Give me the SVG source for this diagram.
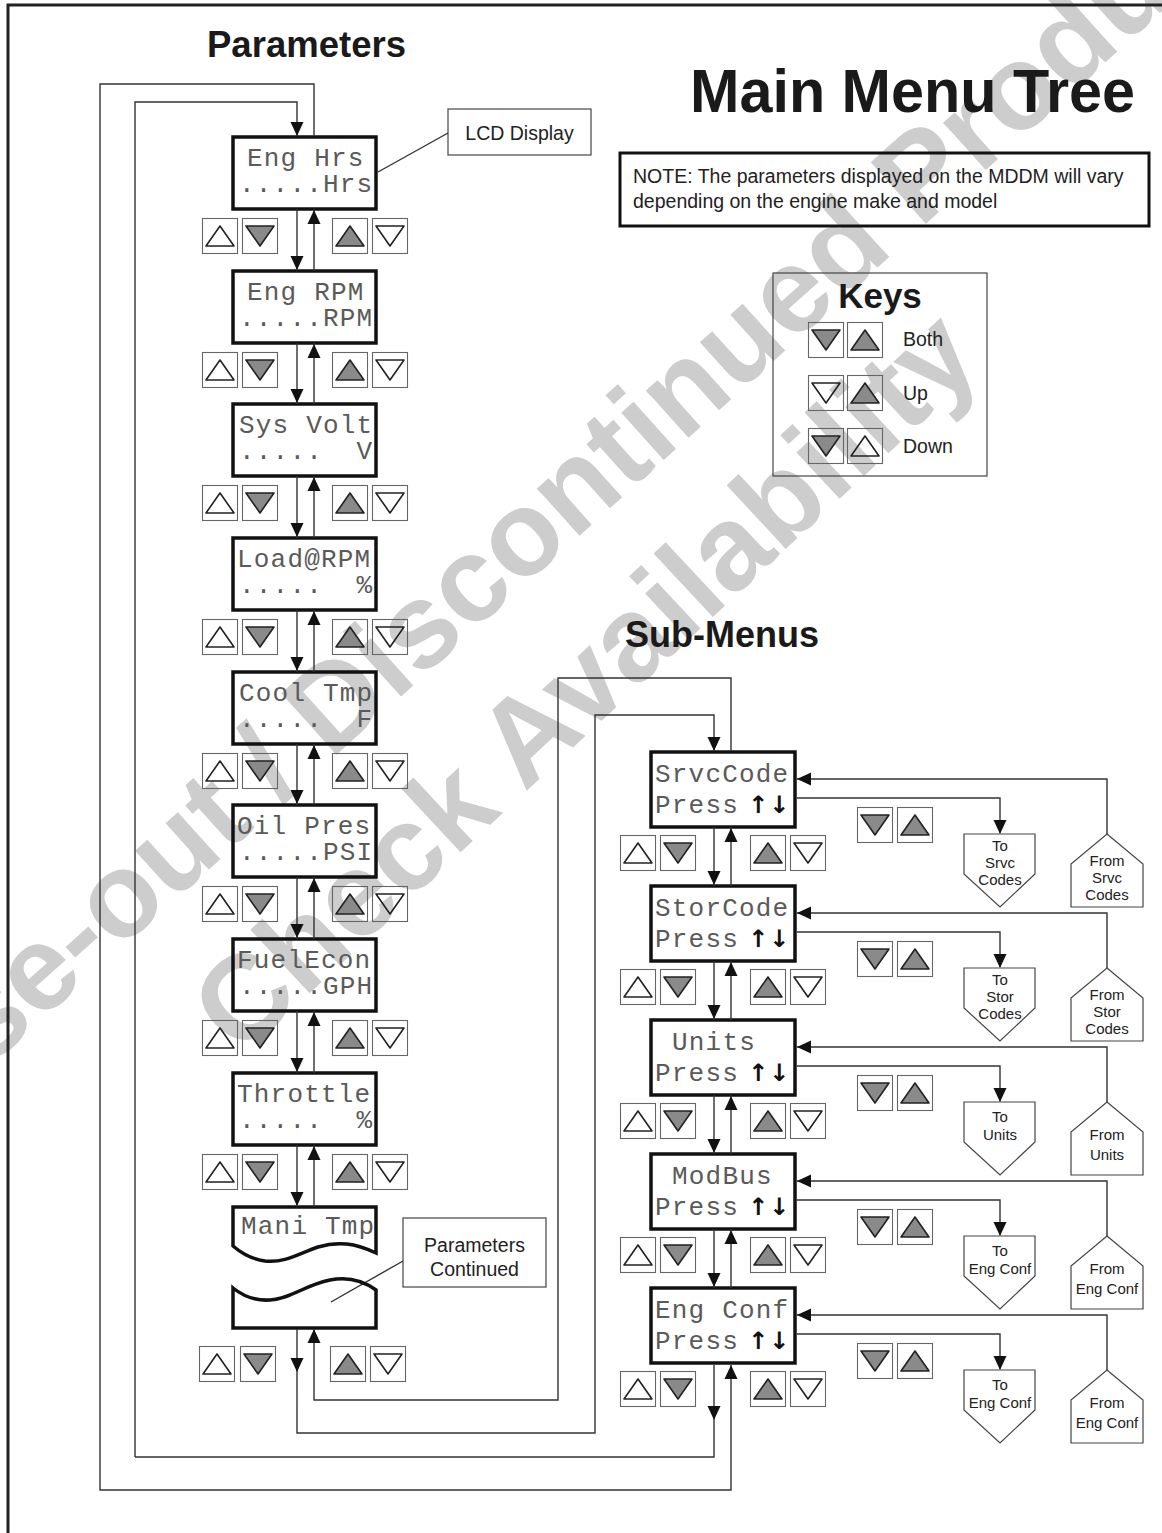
<svg xmlns="http://www.w3.org/2000/svg" width="1162" height="1533" viewBox="0 0 1162 1533">
<style>
text{font-family:"Liberation Sans",Arial,sans-serif}
.wm{font-family:"Liberation Sans",Arial,sans-serif;font-weight:bold;font-size:120px;fill:#cdcdcd}
.lcd{fill:none;stroke:#111;stroke-width:3.5}
.lt{font-family:"Liberation Mono","DejaVu Sans Mono",monospace;font-size:26px;letter-spacing:1.2px;fill:#5a5a5a;white-space:pre}
.ar{font-family:"DejaVu Sans","Liberation Sans",sans-serif;font-size:24px;font-weight:bold;fill:#111;text-anchor:middle}
.c{fill:none;stroke:#333;stroke-width:1.4}
.box{fill:none;stroke:#444;stroke-width:1.2}
.lbl{font-size:19.5px;fill:#222}
.pt{font-size:15px;fill:#222;text-anchor:middle}
.hd{font-weight:bold;fill:#1a1a1a}
.btn{fill:none;stroke:#666;stroke-width:1.1}
.tf{fill:#8a8a8a;stroke:#222;stroke-width:1.6;stroke-linejoin:round}
.th{fill:none;stroke:#222;stroke-width:1.6;stroke-linejoin:round}
.ah{fill:#111}
</style>
<defs>
<g id="uh"><rect class="btn" x="0.5" y="0.5" width="35" height="35"/><polygon class="th" points="4,28 32,28 18,8"/></g>
<g id="uf"><rect class="btn" x="0.5" y="0.5" width="35" height="35"/><polygon class="tf" points="4,28 32,28 18,8"/></g>
<g id="dh"><rect class="btn" x="0.5" y="0.5" width="35" height="35"/><polygon class="th" points="4,8 32,8 18,28"/></g>
<g id="df"><rect class="btn" x="0.5" y="0.5" width="35" height="35"/><polygon class="tf" points="4,8 32,8 18,28"/></g>
<polygon id="aD" class="ah" points="-6.5,-14 6.5,-14 0,0"/>
<polygon id="aU" class="ah" points="-6.5,14 6.5,14 0,0"/>
<polygon id="aL" class="ah" points="14,-6.5 14,6.5 0,0"/>
</defs>

<g id="watermark">
<text class="wm" transform="translate(-175,1215) rotate(-42)">Phase-out / Discontinued Product</text>
<text class="wm" font-size="126" transform="translate(240,1058) rotate(-43)">Check Availability</text>
</g>

<path id="frame" d="M8,1533V5H1162" fill="none" stroke="#222" stroke-width="3"/>

<g id="titles">
<text class="hd" x="207" y="57" font-size="37" textLength="199" lengthAdjust="spacingAndGlyphs">Parameters</text>
<text class="hd" x="690" y="112" font-size="61" textLength="445" lengthAdjust="spacingAndGlyphs">Main Menu Tree</text>
<text class="hd" x="625" y="647" font-size="36">Sub-Menus</text>
</g>

<g id="note">
<rect x="620" y="153" width="529" height="73" fill="none" stroke="#111" stroke-width="3"/>
<text class="lbl" x="633" y="183" font-size="20">NOTE: The parameters displayed on the MDDM will vary</text>
<text class="lbl" x="633" y="208" font-size="20">depending on the engine make and model</text>
</g>

<g id="keys">
<rect class="box" x="773" y="273" width="214" height="203"/>
<text class="hd" x="880" y="308" font-size="35" text-anchor="middle">Keys</text>
<use href="#df" x="808" y="322"/><use href="#uf" x="847" y="322"/>
<use href="#dh" x="808" y="375"/><use href="#uf" x="847" y="375"/>
<use href="#df" x="808" y="428"/><use href="#uh" x="847" y="428"/>
<text class="lbl" x="903" y="346">Both</text>
<text class="lbl" x="903" y="400">Up</text>
<text class="lbl" x="903" y="453">Down</text>
</g>

<g id="lcd-label">
<rect class="box" x="448" y="109" width="143" height="46"/>
<text class="lbl" x="519.5" y="140" text-anchor="middle">LCD Display</text>
<path class="c" d="M448,133L378,172"/>
</g>

<g id="continued-label">
<rect class="box" x="403" y="1218" width="143" height="69"/>
<text class="lbl" x="474.5" y="1252" text-anchor="middle">Parameters</text>
<text class="lbl" x="474.5" y="1276" text-anchor="middle">Continued</text>
<path class="c" d="M403,1261L331,1302"/>
</g>

<g id="n-enghrs">
<rect class="lcd" x="233" y="137" width="143" height="72"/>
<text class="lt" x="247" y="166">Eng Hrs</text>
<text class="lt" x="239" y="192">.....Hrs</text>
<use href="#uh" x="202" y="218"/><use href="#df" x="242" y="218"/><use href="#uf" x="332" y="218"/><use href="#dh" x="372" y="218"/>
</g>
<g id="n-engrpm">
<rect class="lcd" x="233" y="271" width="143" height="72"/>
<text class="lt" x="247" y="300">Eng RPM</text>
<text class="lt" x="239" y="326">.....RPM</text>
<use href="#uh" x="202" y="352"/><use href="#df" x="242" y="352"/><use href="#uf" x="332" y="352"/><use href="#dh" x="372" y="352"/>
</g>
<g id="n-sysvolt">
<rect class="lcd" x="233" y="404" width="143" height="72"/>
<text class="lt" x="239" y="433">Sys Volt</text>
<text class="lt" x="239" y="459" xml:space="preserve">.....  V</text>
<use href="#uh" x="202" y="485"/><use href="#df" x="242" y="485"/><use href="#uf" x="332" y="485"/><use href="#dh" x="372" y="485"/>
</g>
<g id="n-loadrpm">
<rect class="lcd" x="233" y="538" width="143" height="72"/>
<text class="lt" x="237" y="567">Load@RPM</text>
<text class="lt" x="239" y="593" xml:space="preserve">.....  %</text>
<use href="#uh" x="202" y="619"/><use href="#df" x="242" y="619"/><use href="#uf" x="332" y="619"/><use href="#dh" x="372" y="619"/>
</g>
<g id="n-cooltmp">
<rect class="lcd" x="233" y="672" width="143" height="72"/>
<text class="lt" x="239" y="701">Cool Tmp</text>
<text class="lt" x="239" y="727" xml:space="preserve">.....  F</text>
<use href="#uh" x="202" y="753"/><use href="#df" x="242" y="753"/><use href="#uf" x="332" y="753"/><use href="#dh" x="372" y="753"/>
</g>
<g id="n-oilpres">
<rect class="lcd" x="233" y="805" width="143" height="72"/>
<text class="lt" x="237" y="834">Oil Pres</text>
<text class="lt" x="239" y="860">.....PSI</text>
<use href="#uh" x="202" y="886"/><use href="#df" x="242" y="886"/><use href="#uf" x="332" y="886"/><use href="#dh" x="372" y="886"/>
</g>
<g id="n-fuelecon">
<rect class="lcd" x="233" y="939" width="143" height="72"/>
<text class="lt" x="237" y="968">FuelEcon</text>
<text class="lt" x="239" y="994">.....GPH</text>
<use href="#uh" x="202" y="1020"/><use href="#df" x="242" y="1020"/><use href="#uf" x="332" y="1020"/><use href="#dh" x="372" y="1020"/>
</g>
<g id="n-throttle">
<rect class="lcd" x="233" y="1073" width="143" height="72"/>
<text class="lt" x="237" y="1102">Throttle</text>
<text class="lt" x="239" y="1128" xml:space="preserve">.....  %</text>
<use href="#uh" x="202" y="1154"/><use href="#df" x="242" y="1154"/><use href="#uf" x="332" y="1154"/><use href="#dh" x="372" y="1154"/>
</g>
<g id="n-manitmp">
<path class="lcd" d="M233,1207H376V1253C355,1243 338,1241 318,1247C298,1254 285,1263 265,1261C250,1259 240,1252 233,1246Z"/>
<text class="lt" x="241" y="1234">Mani Tmp</text>
</g>
<g id="n-continued">
<path class="lcd" d="M233,1288C243,1296 255,1301 270,1300C290,1299 305,1285 330,1280C350,1276 365,1282 376,1290V1328H233Z"/>
<use href="#uh" x="199" y="1346"/><use href="#df" x="240" y="1346"/><use href="#uf" x="330" y="1346"/><use href="#dh" x="370" y="1346"/>
</g>

<g id="n-srvccode">
<rect class="lcd" x="651" y="752" width="144" height="75"/>
<text class="lt" x="655" y="782">SrvcCode</text>
<text class="lt" x="655" y="813">Press</text>
<text class="ar" x="758" y="813">↑</text><text class="ar" x="779" y="813">↓</text>
<use href="#df" x="857" y="807"/><use href="#uf" x="897" y="807"/>
<use href="#uh" x="620" y="835"/><use href="#df" x="660" y="835"/><use href="#uf" x="750" y="835"/><use href="#dh" x="790" y="835"/>
</g>
<g id="to-srvc">
<polygon class="box" points="964,834 1035,834 1035,874 1000,907 964,874"/>
<text class="pt" x="1000" y="851">To</text><text class="pt" x="1000" y="868">Srvc</text><text class="pt" x="1000" y="885">Codes</text>
</g>
<g id="from-srvc">
<polygon class="box" points="1107,834 1143,864 1143,907 1071,907 1071,864"/>
<text class="pt" x="1107" y="866">From</text><text class="pt" x="1107" y="883">Srvc</text><text class="pt" x="1107" y="900">Codes</text>
</g>

<g id="n-storcode">
<rect class="lcd" x="651" y="886" width="144" height="75"/>
<text class="lt" x="655" y="916">StorCode</text>
<text class="lt" x="655" y="947">Press</text>
<text class="ar" x="758" y="947">↑</text><text class="ar" x="779" y="947">↓</text>
<use href="#df" x="857" y="941"/><use href="#uf" x="897" y="941"/>
<use href="#uh" x="620" y="969"/><use href="#df" x="660" y="969"/><use href="#uf" x="750" y="969"/><use href="#dh" x="790" y="969"/>
</g>
<g id="to-stor">
<polygon class="box" points="964,968 1035,968 1035,1008 1000,1041 964,1008"/>
<text class="pt" x="1000" y="985">To</text><text class="pt" x="1000" y="1002">Stor</text><text class="pt" x="1000" y="1019">Codes</text>
</g>
<g id="from-stor">
<polygon class="box" points="1107,968 1143,998 1143,1041 1071,1041 1071,998"/>
<text class="pt" x="1107" y="1000">From</text><text class="pt" x="1107" y="1017">Stor</text><text class="pt" x="1107" y="1034">Codes</text>
</g>

<g id="n-units">
<rect class="lcd" x="651" y="1020" width="144" height="75"/>
<text class="lt" x="672" y="1050">Units</text>
<text class="lt" x="655" y="1081">Press</text>
<text class="ar" x="758" y="1081">↑</text><text class="ar" x="779" y="1081">↓</text>
<use href="#df" x="857" y="1075"/><use href="#uf" x="897" y="1075"/>
<use href="#uh" x="620" y="1103"/><use href="#df" x="660" y="1103"/><use href="#uf" x="750" y="1103"/><use href="#dh" x="790" y="1103"/>
</g>
<g id="to-units">
<polygon class="box" points="964,1102 1035,1102 1035,1142 1000,1175 964,1142"/>
<text class="pt" x="1000" y="1122">To</text><text class="pt" x="1000" y="1140">Units</text>
</g>
<g id="from-units">
<polygon class="box" points="1107,1102 1143,1132 1143,1175 1071,1175 1071,1132"/>
<text class="pt" x="1107" y="1140">From</text><text class="pt" x="1107" y="1160">Units</text>
</g>

<g id="n-modbus">
<rect class="lcd" x="651" y="1154" width="144" height="75"/>
<text class="lt" x="672" y="1184">ModBus</text>
<text class="lt" x="655" y="1215">Press</text>
<text class="ar" x="758" y="1215">↑</text><text class="ar" x="779" y="1215">↓</text>
<use href="#df" x="857" y="1209"/><use href="#uf" x="897" y="1209"/>
<use href="#uh" x="620" y="1237"/><use href="#df" x="660" y="1237"/><use href="#uf" x="750" y="1237"/><use href="#dh" x="790" y="1237"/>
</g>
<g id="to-engconf-1">
<polygon class="box" points="964,1236 1035,1236 1035,1276 1000,1309 964,1276"/>
<text class="pt" x="1000" y="1256">To</text><text class="pt" x="1000" y="1274">Eng Conf</text>
</g>
<g id="from-engconf-1">
<polygon class="box" points="1107,1236 1143,1266 1143,1309 1071,1309 1071,1266"/>
<text class="pt" x="1107" y="1274">From</text><text class="pt" x="1107" y="1294">Eng Conf</text>
</g>

<g id="n-engconf">
<rect class="lcd" x="651" y="1288" width="144" height="75"/>
<text class="lt" x="655" y="1318">Eng Conf</text>
<text class="lt" x="655" y="1349">Press</text>
<text class="ar" x="758" y="1349">↑</text><text class="ar" x="779" y="1349">↓</text>
<use href="#df" x="857" y="1343"/><use href="#uf" x="897" y="1343"/>
<use href="#uh" x="620" y="1371"/><use href="#df" x="660" y="1371"/><use href="#uf" x="750" y="1371"/><use href="#dh" x="790" y="1371"/>
</g>
<g id="to-engconf-2">
<polygon class="box" points="964,1370 1035,1370 1035,1410 1000,1443 964,1410"/>
<text class="pt" x="1000" y="1390">To</text><text class="pt" x="1000" y="1408">Eng Conf</text>
</g>
<g id="from-engconf-2">
<polygon class="box" points="1107,1370 1143,1400 1143,1443 1071,1443 1071,1400"/>
<text class="pt" x="1107" y="1408">From</text><text class="pt" x="1107" y="1428">Eng Conf</text>
</g>

<g id="connectors">
<path class="c" d="M297,209V271M314,271V209M297,343V404M314,404V343M297,476V538M314,538V476M297,610V672M314,672V610M297,744V805M314,805V744M297,877V939M314,939V877M297,1011V1073M314,1073V1011M297,1145V1207M314,1207V1145"/>
<path class="c" d="M135,1457V102H297V136M314,136V84H100V1490H731V1365M714,1365V1457H135"/>
<path class="c" d="M297,1329V1433H595V715H714V751M731,751V678H558V1400H314V1329"/>
<path class="c" d="M714,827V886M731,886V827M714,961V1020M731,1020V961M714,1095V1154M731,1154V1095M714,1229V1288M731,1288V1229"/>
<path class="c" d="M1107,834V779H797M797,798H1000V833M1107,968V913H797M797,932H1000V967M1107,1102V1047H797M797,1066H1000V1101M1107,1236V1181H797M797,1200H1000V1235M1107,1370V1315H797M797,1334H1000V1369"/>
<use href="#aD" x="297" y="270"/><use href="#aU" x="314" y="210"/>
<use href="#aD" x="297" y="403"/><use href="#aU" x="314" y="344"/>
<use href="#aD" x="297" y="537"/><use href="#aU" x="314" y="477"/>
<use href="#aD" x="297" y="671"/><use href="#aU" x="314" y="611"/>
<use href="#aD" x="297" y="804"/><use href="#aU" x="314" y="745"/>
<use href="#aD" x="297" y="938"/><use href="#aU" x="314" y="878"/>
<use href="#aD" x="297" y="1072"/><use href="#aU" x="314" y="1012"/>
<use href="#aD" x="297" y="1206"/><use href="#aU" x="314" y="1146"/>
<use href="#aD" x="297" y="136"/>
<use href="#aU" x="731" y="1365"/>
<use href="#aD" x="714" y="1420"/>
<use href="#aD" x="297" y="1372"/>
<use href="#aD" x="714" y="751"/>
<use href="#aU" x="314" y="1329"/>
<use href="#aD" x="714" y="885"/><use href="#aU" x="731" y="828"/>
<use href="#aD" x="714" y="1019"/><use href="#aU" x="731" y="962"/>
<use href="#aD" x="714" y="1153"/><use href="#aU" x="731" y="1096"/>
<use href="#aD" x="714" y="1287"/><use href="#aU" x="731" y="1230"/>
<use href="#aL" x="797" y="779"/><use href="#aD" x="1000" y="834"/>
<use href="#aL" x="797" y="913"/><use href="#aD" x="1000" y="968"/>
<use href="#aL" x="797" y="1047"/><use href="#aD" x="1000" y="1102"/>
<use href="#aL" x="797" y="1181"/><use href="#aD" x="1000" y="1236"/>
<use href="#aL" x="797" y="1315"/><use href="#aD" x="1000" y="1370"/>
</g>
</svg>
